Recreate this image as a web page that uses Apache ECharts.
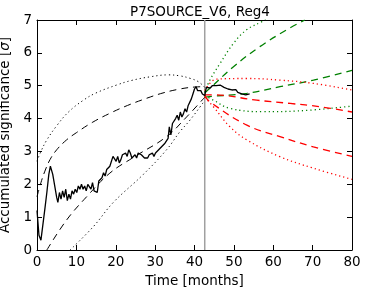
<!DOCTYPE html>
<html><head><meta charset="utf-8">
<script src="https://cdn.jsdelivr.net/npm/echarts@6/dist/echarts.min.js"></script>
<style>html,body{margin:0;padding:0;background:#fff}#c{width:371px;height:288px}</style>
</head><body><div id="c"></div>
<script>
const xTicks = [0,10,20,30,40,50,60,70,80];
const yTicks = [0,1,2,3,4,5,6,7];
const splitMonth = 42.6;
const observed = [[0,1.2],[0.5,0.45],[1,0.3],[1.5,0.35],[2,1.25],[2.5,1.75],[3,2.3],[3.4,2.55],[4,2.3],[4.5,1.95],[5,1.6],[5.3,1.45],[5.7,1.75],[6.1,1.55],[6.5,1.8],[6.9,1.6],[7.3,1.85],[7.7,1.5],[8.1,1.7],[8.5,1.55],[8.9,1.8],[9.3,1.7],[9.7,1.85],[10.1,1.75],[10.5,1.95],[10.9,1.85],[11.3,2.0],[11.7,1.85],[12.1,1.95],[12.5,1.8],[12.9,2.0],[13.3,1.95],[13.7,1.85],[14.1,2.05],[14.5,1.8],[14.9,1.75],[15.3,1.75],[15.7,2.1],[16.1,2.05],[16.5,2.2],[16.9,2.35],[17.3,2.25],[17.7,2.45],[18.1,2.4],[18.5,2.55],[18.9,2.6],[19.3,2.85],[19.7,2.8],[20.1,2.7],[20.5,2.85],[20.9,2.65],[21.3,2.75],[21.7,2.9],[22.1,2.85],[22.5,2.95],[22.9,2.85],[23.3,3.05],[23.7,2.95],[24.1,2.8],[24.5,2.85],[24.9,2.9],[25.3,2.8],[25.7,2.95],[26.1,3.0],[26.5,2.9],[26.9,2.95],[27.3,2.8],[27.7,2.85],[28.1,2.8],[28.5,2.9],[28.9,2.85],[29.3,2.95],[29.7,2.85],[30.1,2.95],[30.5,3.0],[30.9,3.05],[31.3,3.0],[31.7,3.15],[32.1,3.1],[32.5,3.25],[32.9,3.2],[33.3,3.4],[33.6,3.75],[34,3.5],[34.4,3.85],[34.8,3.8],[35.2,4.0],[35.6,4.1],[36,3.95],[36.4,4.2],[36.8,4.05],[37.2,4.15],[37.6,4.3],[38,4.2],[38.4,4.4],[38.8,4.45],[39.2,4.6],[39.6,4.75],[40,4.9],[40.4,4.97],[40.8,4.85],[41.2,4.9],[41.6,4.85],[42,4.75],[42.6,4.7],[43,4.95],[43.5,4.97],[44,4.93],[44.5,5.0],[45,5.05],[45.5,5.0],[46,4.95],[46.5,5.02],[47,5.0],[47.5,4.95],[48,4.97],[48.5,4.9],[49,4.93],[49.5,4.87],[50,4.85],[50.5,4.88],[51,4.8],[51.5,4.78],[52,4.75],[52.5,4.76],[53,4.72],[53.5,4.76],[54,4.75]];
const backDashUpper = [[0,1.62],[1,2.05],[2,2.4],[3.3,2.75],[5,3.05],[7.5,3.35],[10,3.57],[14,3.88],[18.5,4.16],[23,4.4],[27.9,4.62],[32,4.78],[36.3,4.9],[40,4.96],[42.6,4.97]];
const backDashLower = [[2.5,0],[7.5,0.91],[12.6,1.62],[18.5,2.34],[24.5,2.82],[32.9,3.45],[38,4.05],[42.6,4.65]];
const backDotUpper = [[0,2.7],[1,3.0],[2.5,3.35],[5,3.78],[8,4.2],[11.8,4.56],[15,4.78],[20.2,5.02],[24,5.16],[28.7,5.27],[33.3,5.33],[36.3,5.3],[39,5.22],[41,5.12],[42.6,4.95]];
const backDotLower = [[8.4,0],[14.3,0.71],[19.4,1.45],[27,2.3],[32.9,3.05],[36.3,3.6],[38.9,3.96],[42.6,4.55]];
const greenDotUpper = [[42.6,4.8],[43.9,5.17],[46.5,5.68],[49.9,6.29],[53.2,6.7],[57.1,6.95],[58,7.02]];
const greenDashUpper = [[42.6,4.78],[43.9,4.92],[49.9,5.58],[56.6,6.19],[63.4,6.7],[68,7.0]];
const redDotUpper = [[42.6,4.85],[45.6,5.2],[53.3,5.22],[61.7,5.17],[70.2,5.07],[80,4.87]];
const greenDashLower = [[42.6,4.65],[43.9,4.67],[53.3,4.77],[61.7,4.97],[70.2,5.17],[80,5.47]];
const redDashUpper = [[42.6,4.72],[44.8,4.72],[55.8,4.56],[64.3,4.46],[71.9,4.36],[80,4.2]];
const greenDotLower = [[42.6,4.7],[44.8,4.56],[49,4.31],[57.5,4.21],[66,4.23],[80,4.38]];
const redDashLower = [[42.6,4.7],[43.9,4.51],[53.3,3.8],[61.7,3.45],[70.2,3.14],[80,2.85]];
const redDotLower = [[42.6,4.65],[44.8,4.36],[49,3.75],[53.3,3.35],[61.7,2.84],[70.2,2.49],[80,2.15]];

const FONT = 'DejaVu Sans';
const chart = echarts.init(document.getElementById('c'), null, {renderer:'canvas'});
const dash = [7,5], dot = [1.2,3];
function line(data, color, type, width, smooth){
  return {type:'line', data, symbol:'none', smooth: smooth, clip:true, silent:true,
    lineStyle:{color, width, type}, z: 3};
}
const axisCommon = {
  min:0, axisLine:{show:true, onZero:false, lineStyle:{color:'#000', width:1}},
  axisTick:{show:true, inside:true, length:5, lineStyle:{color:'#000', width:1}},
  splitLine:{show:false}
};
chart.setOption({
  animation:false,
  backgroundColor:'#fff',
  title:{text:'P7SOURCE_V6, Reg4', left:195, top:0, textAlign:'center',
    textStyle:{fontFamily:FONT, fontSize:13.5, fontWeight:'normal', color:'#000'}},
  grid:{left:37, right:19, top:20, bottom:38, containLabel:false, outerBoundsMode:'none', show:false},
  xAxis:[
    Object.assign({}, axisCommon, {type:'value', max:80, interval:10, position:'bottom',
      name:'Time [months]', nameLocation:'middle', nameGap:24,
      nameTextStyle:{fontFamily:FONT, fontSize:13.5, color:'#000'},
      axisLabel:{fontFamily:FONT, fontSize:13.5, color:'#000', margin:5, formatter:v=>xTicks.includes(v)?String(v):''}}),
    Object.assign({}, axisCommon, {type:'value', max:80, interval:10, position:'top', axisLabel:{show:false}})
  ],
  yAxis:[
    Object.assign({}, axisCommon, {type:'value', max:7, interval:1, position:'left',
      name:'Accumulated significance [{i|σ}]', nameLocation:'middle', nameGap:23,
      nameTextStyle:{fontFamily:FONT, fontSize:13.5, color:'#000', rich:{i:{fontFamily:FONT, fontSize:13.5, fontStyle:'italic', color:'#000'}}},
      axisLabel:{fontFamily:FONT, fontSize:13.5, color:'#000', margin:5, formatter:v=>yTicks.includes(v)?String(v):''}}),
    Object.assign({}, axisCommon, {type:'value', max:7, interval:1, position:'right', axisLabel:{show:false}})
  ],
  series:[
    {type:'line', data:[[splitMonth,0],[splitMonth,7]], symbol:'none', silent:true,
      lineStyle:{color:'#a0a0a0', width:1.5}, z:1},
    line(backDotUpper,'#000',dot,1,0.4),
    line(backDotLower,'#000',dot,1,0.4),
    line(backDashUpper,'#000',dash,1,0.4),
    line(backDashLower,'#000',dash,1,0.4),
    line(greenDotUpper,'#008000',dot,1.3,0.4),
    line(greenDashUpper,'#008000',dash,1.3,0.4),
    line(greenDashLower,'#008000',dash,1.3,0.4),
    line(greenDotLower,'#008000',dot,1.3,0.4),
    line(redDotUpper,'#ff0000',dot,1.3,0.4),
    line(redDashUpper,'#ff0000',dash,1.3,0.4),
    line(redDashLower,'#ff0000',dash,1.3,0.4),
    line(redDotLower,'#ff0000',dot,1.3,0.4),
    Object.assign(line(observed,'#000','solid',1.3,false),{z:4})
  ]
});
</script></body></html>
